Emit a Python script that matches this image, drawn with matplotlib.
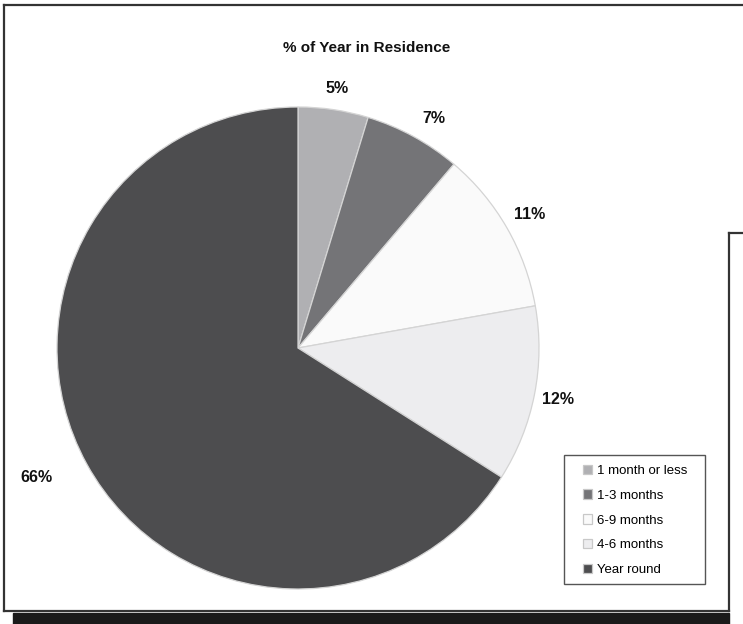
import matplotlib.pyplot as plt
import numpy as np
from matplotlib.patches import Rectangle
from matplotlib.lines import Line2D

categories = ['1 month or less', '1-3 months', '6-9 months', '4-6 months', 'Year round']
values = [4.7, 6.5, 11.0, 11.8, 66.0]
labels = ['5%', '7%', '11%', '12%', '66%']
colors = ['#b0b0b3', '#747477', '#fafafa', '#ededef', '#4d4d4f']

W, H = 743, 624
fig = plt.figure(figsize=(W / 100, H / 100), dpi=100)
plt.rcParams['font.family'] = ['Liberation Sans', 'DejaVu Sans']

def px(x, y):
    # pixel (top-left origin) -> figure fraction
    return x / W, 1 - y / H

# frame lines and shadow
frame_col = '#333333'
segs = [((4, 5), (743, 5)), ((4, 5), (4, 611)), ((4, 611), (729, 611)),
        ((729, 233), (729, 611)), ((729, 233), (743, 233))]
for a, b in segs:
    (x0, y0), (x1, y1) = px(*a), px(*b)
    fig.add_artist(Line2D([x0, x1], [y0, y1], color=frame_col, lw=1.6,
                          transform=fig.transFigure))
x0, y0 = px(13, 624)
fig.add_artist(Rectangle((x0, y0), (729 - 13) / W, 11 / H, color='#1a1a1a',
                         transform=fig.transFigure))

# pie
cx, cy, r = 298, 348, 241
ax = fig.add_axes([(cx - r) / W, 1 - (cy + r) / H, 2 * r / W, 2 * r / H])
wedges, _ = ax.pie(values, colors=colors, startangle=90, counterclock=False,
                   radius=1, wedgeprops=dict(edgecolor='#d4d4d4', linewidth=0.9))
ax.set_xlim(-1, 1)
ax.set_ylim(-1, 1)
ax.axis('off')

# label distance and angular nudge (degrees) per slice
dists = [1.09, 1.105, 1.11, 1.1, 1.21]
nudges = [0, -2, 0, 0, -2.5]
for w, lab, d, n in zip(wedges, labels, dists, nudges):
    ang = np.deg2rad((w.theta1 + w.theta2) / 2 + n)
    ax.text(d * np.cos(ang), d * np.sin(ang), lab, ha='center', va='center',
            fontsize=11.5, fontweight='bold', color='#111111', clip_on=False)

fig.text(*px(367, 48), '% of Year in Residence', ha='center', va='center',
         fontsize=11, fontweight='bold', color='#111111')

# legend box drawn by hand, legend itself frameless
bx0, by0 = px(564, 584)
fig.add_artist(Rectangle((bx0, by0), (705 - 564) / W, (584 - 455) / H,
                         facecolor='white', edgecolor='#555555', lw=1.0,
                         transform=fig.transFigure))
leg = fig.legend(wedges, categories, loc='upper left', bbox_to_anchor=px(583, 464.5),
                 frameon=False, fontsize=9.5, handlelength=0.7,
                 handleheight=0.7, handletextpad=0.35, labelspacing=0.96,
                 borderpad=0, borderaxespad=0)
for h in leg.legend_handles:
    h.set_edgecolor('#c8c8c8')

fig.savefig('out.png', dpi=100)
